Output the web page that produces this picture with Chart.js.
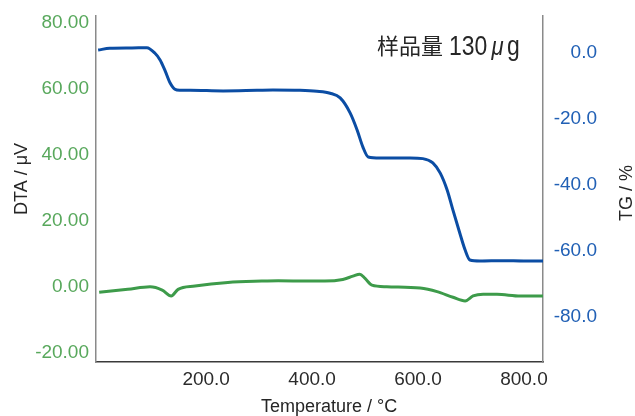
<!DOCTYPE html>
<html lang="zh">
<head>
    <meta charset="UTF-8">
    <title>TG-DTA</title>
    <script src="https://cdn.jsdelivr.net/npm/chart.js"></script>
    <style>
        html, body { margin: 0; padding: 0; background: #fff; }
        .chart-container { position: relative; width: 635px; height: 416px; }
    </style>
</head>
<body>
    <div class="chart-container">
        <canvas id="tgChart" width="635" height="416"></canvas>
    </div>
    <script>
        // TG curve (temperature in °C, mass change in %)
        const tgTemp = [-4, 18, 60, 88, 103, 113, 122, 132, 141, 150, 170, 232, 296, 326, 377, 409, 434, 453, 472, 485, 496, 506, 528, 585, 609, 628, 642, 655, 666, 679, 689, 698, 717, 760, 800, 836];
        const tgValues = [0.9, 1.4, 1.5, 1.6, 0.0, -2.1, -5.2, -9.1, -11.0, -11.3, -11.3, -11.5, -11.3, -11.2, -11.3, -11.6, -12.2, -13.6, -18.2, -23.3, -28.5, -31.5, -31.8, -31.8, -32.0, -33.3, -36.4, -41.5, -47.6, -54.6, -59.7, -62.7, -63.0, -62.9, -63.0, -63.0];

        // DTA curve (temperature in °C, signal in µV)
        const dtaTemp = [-2, 52, 94, 117, 134, 147, 179, 241, 305, 336, 392, 424, 458, 477, 490, 500, 513, 541, 604, 636, 666, 689, 704, 723, 749, 793, 836];
        const dtaValues = [-1.6, -0.7, 0.1, -0.9, -2.7, -0.7, 0.3, 1.4, 1.8, 1.9, 1.8, 1.8, 2.3, 3.3, 3.9, 2.6, 0.6, 0.1, -0.3, -1.4, -3.1, -4.2, -2.7, -2.2, -2.2, -2.7, -2.7];

        // tick labels
        const tempTicks = [200, 400, 600, 800];
        const dtaTicks = [-20, 0, 20, 40, 60, 80];
        const tgTicks = [-80, -60, -40, -20, 0];

        const FONT = '"Liberation Sans", Arial, sans-serif';
        const GREEN = '#3d9b4a';
        const BLUE = '#0b4da4';

        // fix the box sizes so the plot area lands where the original has it
        function fitScale(size, isWidth) {
            return s => {
                if (isWidth) s.width = size; else s.height = size;
                s.paddingTop = 0;
                s.paddingBottom = 0;
                s.paddingLeft = 0;
                s.paddingRight = 0;
            };
        }

        // axis titles and the sample mass note, drawn at fixed spots
        const labelsPlugin = {
            id: 'labels',
            afterDraw(chart) {
                const ctx = chart.ctx;
                ctx.save();
                ctx.fillStyle = '#262626';
                ctx.font = '18px ' + FONT;
                ctx.textAlign = 'center';
                ctx.textBaseline = 'middle';
                ctx.fillText('Temperature / °C', 329, 407);

                ctx.save();
                ctx.translate(22, 179);
                ctx.rotate(-Math.PI / 2);
                ctx.fillText('DTA / μV', 0, 0);
                ctx.restore();

                ctx.save();
                ctx.translate(627, 193);
                ctx.rotate(-Math.PI / 2);
                ctx.fillText('TG / %', 0, 0);
                ctx.restore();

                // 样品量 130μg
                ctx.textAlign = 'left';
                ctx.textBaseline = 'alphabetic';
                ctx.font = '22px "Noto Sans CJK SC", sans-serif';
                ctx.fillText('样品量', 377, 54);
                ctx.save();
                ctx.translate(449, 55);
                ctx.scale(0.85, 1);
                ctx.font = '27px ' + FONT;
                ctx.fillText('130', 0, 0);
                let x = ctx.measureText('130').width + 5;
                ctx.font = 'italic 26px ' + FONT;
                ctx.fillText('μ', x, 0);
                x += ctx.measureText('μ').width + 4;
                ctx.font = '27px ' + FONT;
                ctx.fillText('g', x, 0);
                ctx.restore();
                ctx.restore();
            }
        };

        const ctx = document.getElementById('tgChart').getContext('2d');
        new Chart(ctx, {
            type: 'line',
            data: {
                datasets: [{
                    label: 'DTA',
                    data: dtaTemp.map((t, i) => ({ x: t, y: dtaValues[i] })),
                    borderColor: GREEN,
                    borderWidth: 3,
                    yAxisID: 'yDta'
                }, {
                    label: 'TG',
                    data: tgTemp.map((t, i) => ({ x: t, y: tgValues[i] })),
                    borderColor: BLUE,
                    borderWidth: 3,
                    yAxisID: 'yTg'
                }]
            },
            options: {
                responsive: false,
                animation: false,
                devicePixelRatio: 1,
                layout: { padding: { top: 16, left: 0, right: 38, bottom: 0 } },
                elements: {
                    point: { radius: 0 },
                    line: { cubicInterpolationMode: 'monotone', fill: false }
                },
                plugins: {
                    legend: { display: false },
                    tooltip: { enabled: false }
                },
                scales: {
                    x: {
                        type: 'linear',
                        min: -8,
                        max: 836,
                        afterBuildTicks: s => { s.ticks = tempTicks.map(v => ({ value: v })); },
                        afterFit: fitScale(54, false),
                        grid: { display: true, drawOnChartArea: false, drawTicks: false },
                        border: { color: '#3a3a3a', width: 1.5 },
                        ticks: {
                            padding: 6,
                            color: '#2b2b2b',
                            font: { family: FONT, size: 19 },
                            maxRotation: 0,
                            callback: v => v.toFixed(1)
                        }
                    },
                    yDta: {
                        position: 'left',
                        min: -22.7,
                        max: 82.1,
                        afterBuildTicks: s => { s.ticks = dtaTicks.map(v => ({ value: v })); },
                        afterFit: fitScale(96, true),
                        grid: { display: true, drawOnChartArea: false, drawTicks: false },
                        border: { color: '#8a8a8a', width: 1.5 },
                        ticks: {
                            padding: 7,
                            color: '#58a85c',
                            font: { family: FONT, size: 19 },
                            callback: v => v.toFixed(2)
                        }
                    },
                    yTg: {
                        position: 'right',
                        min: -93.6,
                        max: 11.2,
                        afterBuildTicks: s => { s.ticks = tgTicks.map(v => ({ value: v })); },
                        afterFit: fitScale(54, true),
                        grid: { display: true, drawOnChartArea: false, drawTicks: false },
                        border: { color: '#8a8a8a', width: 1.5 },
                        ticks: {
                            padding: 11,
                            crossAlign: 'far',
                            color: '#2160b5',
                            font: { family: FONT, size: 19 },
                            callback: v => v.toFixed(1)
                        }
                    }
                }
            },
            plugins: [labelsPlugin]
        });
    </script>
</body>
</html>
